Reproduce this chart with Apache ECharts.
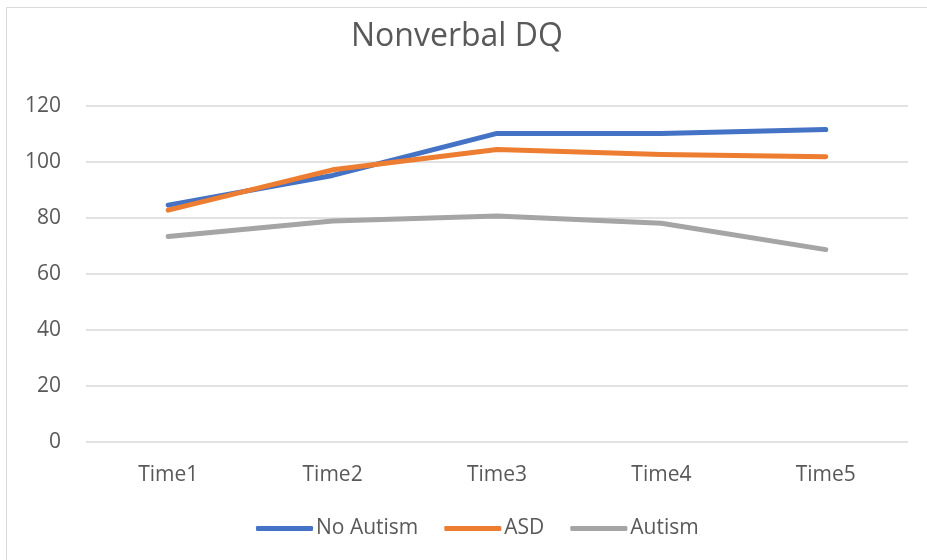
<!DOCTYPE html>
<html><head><meta charset="utf-8">
<script src="https://cdn.jsdelivr.net/npm/echarts@6/dist/echarts.min.js"></script>
<style>html,body{margin:0;padding:0;background:#fff}#c{width:927px;height:560px}</style>
</head><body><div id="c"></div>
<script>
const categories = ['Time1','Time2','Time3','Time4','Time5'];
const noAutism = [84.6, 95.2, 110.2, 110.2, 111.6];
const asd = [82.8, 97.2, 104.5, 102.7, 101.9];
const autism = [73.4, 78.9, 80.7, 78.1, 68.7];
const yTicks = [0, 20, 40, 60, 80, 100, 120];

const chart = echarts.init(document.getElementById('c'));
const font = 'Open Sans';
const mk = (name, data, color) => ({
  name, type: 'line', data, symbol: 'none', smooth: false,
  lineStyle: { width: 5, color, cap: 'round', join: 'round' }, itemStyle: { color }
});
chart.setOption({
  animation: false,
  graphic: [{ type: 'rect', shape: { x: 6.5, y: 7.5, width: 940, height: 600 },
    style: { fill: 'none', stroke: '#d9d9d9', lineWidth: 1 } }],
  title: { text: 'Nonverbal DQ', left: 346, top: 16,
    textStyle: { fontFamily: font, fontSize: 32, fontWeight: 'normal', color: '#595959' } },
  legend: { bottom: 16, left: 251, itemWidth: 57, itemHeight: 5, itemGap: 26,
    icon: 'roundRect',
    textStyle: { fontFamily: font, fontSize: 21, color: '#595959', padding: [0,0,0,-2] },
    data: ['No Autism','ASD','Autism'] },
  grid: { left: 86, right: 19, top: 106, bottom: 118 },
  xAxis: { type: 'category', data: categories, boundaryGap: true,
    axisLine: { show: false }, axisTick: { show: false },
    axisLabel: { fontFamily: font, fontSize: 21, color: '#595959', margin: 23 } },
  yAxis: { type: 'value', min: yTicks[0], max: yTicks[yTicks.length-1], interval: 20,
    axisLine: { show: false }, axisTick: { show: false },
    splitLine: { lineStyle: { color: '#d9d9d9', width: 1.5 } },
    axisLabel: { fontFamily: font, fontSize: 21, color: '#595959', margin: 25, formatter: v => yTicks.includes(v) ? String(v) : '' } },
  series: [mk('No Autism', noAutism, '#4472C4'), mk('ASD', asd, '#ED7D31'), mk('Autism', autism, '#A5A5A5')]
});
</script></body></html>
